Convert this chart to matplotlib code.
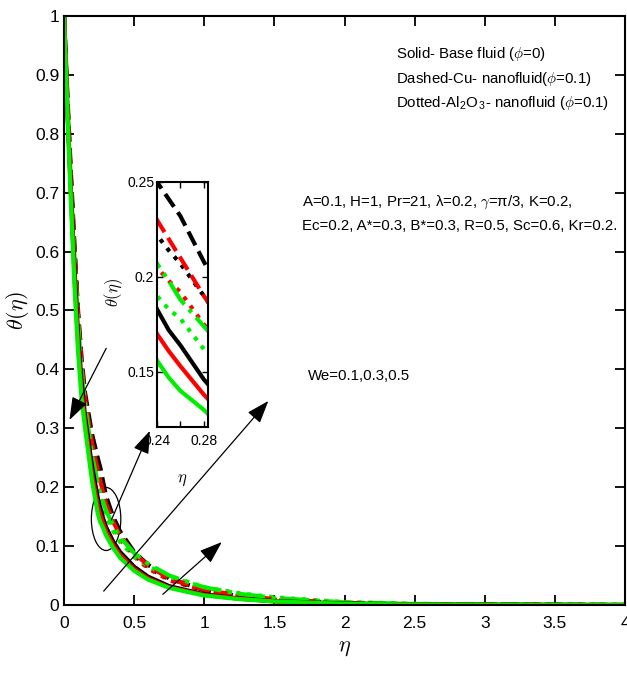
import numpy as np
import matplotlib
matplotlib.use('Agg')
import matplotlib.pyplot as plt
from matplotlib.patches import Ellipse

plt.rcParams['font.family'] = ['Liberation Sans', 'DejaVu Sans']
plt.rcParams['mathtext.fontset'] = 'cm'

# eta grid and temperature profiles theta(eta)
eta = [0, 0.025, 0.05, 0.075, 0.1, 0.125, 0.15, 0.2, 0.24, 0.25, 0.26, 0.28, 0.3,
       0.35, 0.4, 0.5, 0.6, 0.75, 1.0, 1.25, 1.5, 2.0, 2.5, 3.0, 4.0]

solid_black = [1.0, 0.84, 0.70, 0.57, 0.46, 0.38, 0.32, 0.235, 0.183, 0.172, 0.164, 0.146, 0.132,
               0.108, 0.090, 0.065, 0.048, 0.032, 0.018, 0.011, 0.0065, 0.0025, 0.001, 0.0004, 0.0]
solid_red = [1.0, 0.835, 0.69, 0.555, 0.445, 0.365, 0.31, 0.222, 0.170, 0.161, 0.153, 0.138, 0.125,
             0.102, 0.085, 0.061, 0.045, 0.030, 0.017, 0.0105, 0.0062, 0.0022, 0.0009, 0.0003, 0.0]
solid_green = [1.0, 0.83, 0.68, 0.54, 0.43, 0.35, 0.30, 0.21, 0.156, 0.147, 0.140, 0.130, 0.118,
               0.097, 0.080, 0.058, 0.043, 0.029, 0.016, 0.010, 0.006, 0.002, 0.0008, 0.0003, 0.0]

dashed_black = [1.0, 0.86, 0.73, 0.61, 0.50, 0.42, 0.36, 0.29, 0.250, 0.241, 0.232, 0.208, 0.185,
                0.150, 0.125, 0.090, 0.068, 0.045, 0.025, 0.015, 0.009, 0.003, 0.0012, 0.0005, 0.0]
dashed_red = [1.0, 0.855, 0.72, 0.60, 0.49, 0.41, 0.35, 0.275, 0.230, 0.220, 0.210, 0.190, 0.172,
              0.142, 0.118, 0.088, 0.067, 0.045, 0.026, 0.016, 0.010, 0.0035, 0.0014, 0.0006, 0.0]
dashed_green = [1.0, 0.85, 0.71, 0.59, 0.48, 0.40, 0.34, 0.255, 0.207, 0.198, 0.188, 0.174, 0.160,
                0.135, 0.115, 0.088, 0.070, 0.050, 0.030, 0.019, 0.012, 0.0045, 0.0018, 0.0008, 0.0]

dotted_black = [1.0, 0.85, 0.72, 0.60, 0.49, 0.40, 0.345, 0.265, 0.222, 0.214, 0.207, 0.190, 0.172,
                0.140, 0.117, 0.085, 0.064, 0.043, 0.024, 0.015, 0.009, 0.003, 0.0012, 0.0005, 0.0]
dotted_red = [1.0, 0.845, 0.71, 0.59, 0.48, 0.395, 0.335, 0.25, 0.205, 0.198, 0.192, 0.175, 0.160,
              0.132, 0.111, 0.082, 0.062, 0.042, 0.024, 0.015, 0.009, 0.003, 0.0012, 0.0005, 0.0]
dotted_green = [1.0, 0.84, 0.70, 0.58, 0.47, 0.385, 0.325, 0.24, 0.190, 0.183, 0.178, 0.162, 0.150,
                0.126, 0.107, 0.082, 0.066, 0.048, 0.030, 0.020, 0.013, 0.005, 0.002, 0.0009, 0.0]

green = '#00ee00'
curves = [
    (dotted_black, 'k', ':'), (dotted_red, 'r', ':'), (dotted_green, green, ':'),
    (dashed_black, 'k', '--'), (dashed_red, 'r', '--'), (dashed_green, green, '-.'),
    (solid_black, 'k', '-'), (solid_red, 'r', '-'), (solid_green, green, '-'),
]

fig = plt.figure(figsize=(6.27, 6.74), dpi=100)
ax = fig.add_axes([0.1021, 0.1024, 0.8947, 0.8739])

for y, c, ls in curves:
    ax.plot(eta, y, color=c, linestyle=ls, linewidth=3)

ax.set_xlim(0, 4)
ax.set_ylim(0, 1)
ax.set_xticks(np.arange(0, 4.01, 0.5))
ax.set_xticklabels(['0', '0.5', '1', '1.5', '2', '2.5', '3', '3.5', '4'])
ax.set_yticks(np.arange(0, 1.01, 0.1))
ax.set_yticklabels(['0', '0.1', '0.2', '0.3', '0.4', '0.5', '0.6', '0.7', '0.8', '0.9', '1'])
ax.tick_params(direction='in', top=True, right=True, length=7, width=1.3, labelsize=12.5)
ax.tick_params(axis='x', pad=8)
for s in ax.spines.values():
    s.set_linewidth(1.5)
ax.set_xlabel(r'$\eta$', fontsize=16, labelpad=4)
ax.set_ylabel(r'$\theta(\eta)$', fontsize=16, labelpad=3)

# texts
fs = 10.8
ax.text(0.592, 0.935, r'Solid- Base fluid ($\phi$=0)', transform=ax.transAxes, fontsize=fs, va='center')
ax.text(0.592, 0.893, r'Dashed-Cu- nanofluid($\phi$=0.1)', transform=ax.transAxes, fontsize=fs, va='center')
ax.text(0.592, 0.853, r'Dotted-Al$_\mathregular{2}$O$_\mathregular{3}$- nanofluid ($\phi$=0.1)',
        transform=ax.transAxes, fontsize=fs, va='center')
ax.text(0.425, 0.684, r'A=0.1, H=1, Pr=21, λ=0.2, $\gamma$=π/3, K=0.2,',
        transform=ax.transAxes, fontsize=fs, va='center')
ax.text(0.425, 0.644, 'Ec=0.2, A*=0.3, B*=0.3, R=0.5, Sc=0.6, Kr=0.2.',
        transform=ax.transAxes, fontsize=fs, va='center')
ax.text(1.74, 0.388, 'We=0.1,0.3,0.5', fontsize=fs, va='center')

# arrows
aprops = dict(arrowstyle='-|>,head_length=1.4,head_width=0.5', color='k', lw=0.9)
ax.annotate('', xy=(0.03, 0.31), xytext=(0.31, 0.44), arrowprops=aprops)
ax.annotate('', xy=(0.62, 0.3), xytext=(0.33, 0.14), arrowprops=aprops)
ax.annotate('', xy=(1.47, 0.35), xytext=(0.27, 0.02), arrowprops=aprops)
ax.annotate('', xy=(1.14, 0.11), xytext=(0.69, 0.015), arrowprops=aprops)
ax.add_patch(Ellipse((0.30, 0.146), 0.21, 0.107, fill=False, edgecolor='k', lw=0.9))

# inset
ins = fig.add_axes([0.2504, 0.3665, 0.0813, 0.3635])
for y, c, ls in curves:
    ins.plot(eta, y, color=c, linestyle=ls, linewidth=3)
ins.set_xlim(0.24, 0.2835)
ins.set_ylim(0.121, 0.25)
ins.set_xticks([0.24, 0.26, 0.28])
ins.set_xticklabels(['0.24', '', '0.28'])
ins.set_yticks([0.15, 0.2, 0.25])
ins.set_yticklabels(['0.15', '0.2', '0.25'])
ins.tick_params(direction='in', top=True, right=True, length=4, width=1, labelsize=10, pad=2)
ins.tick_params(axis='x', pad=5)
for s in ins.spines.values():
    s.set_linewidth(1.5)
ins.set_xlabel(r'$\eta$', fontsize=12, labelpad=18)
ins.set_ylabel(r'$\theta(\eta)$', fontsize=12)
ins.yaxis.set_label_coords(-0.62, 0.55)

fig.savefig('out.png', dpi=100)
